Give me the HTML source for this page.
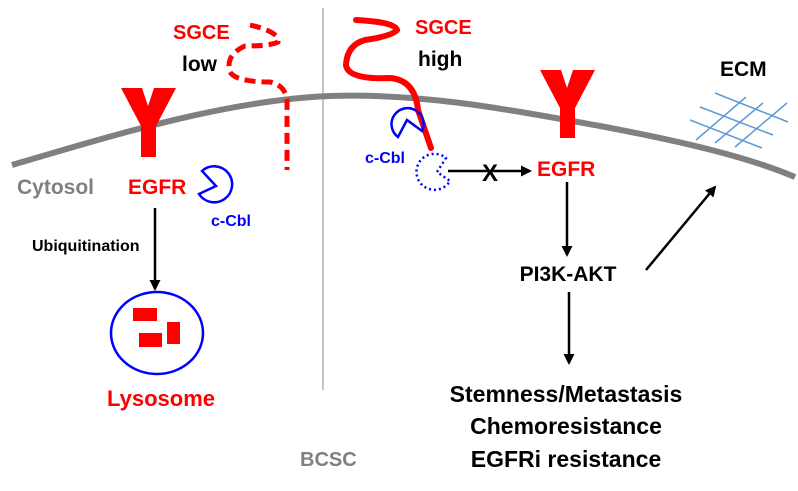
<!DOCTYPE html>
<html><head><meta charset="utf-8"><style>
html,body{margin:0;padding:0;background:#fff}
svg{display:block}
text{font-family:"Liberation Sans",Arial,sans-serif;font-weight:bold}
</style></head><body>
<svg width="798" height="491" viewBox="0 0 798 491" xmlns="http://www.w3.org/2000/svg">
<defs>
<marker id="ah" markerWidth="11" markerHeight="11" refX="9" refY="5.5" orient="auto" markerUnits="userSpaceOnUse">
<path d="M0,0 L11,5.5 L0,11 z" fill="#000"/></marker>
</defs>
<line x1="323" y1="8" x2="323" y2="390" stroke="#888" stroke-width="1"/>
<path d="M12,165 C120,133 230,100 330,96 C420,93 500,108 600,126 C690,143 750,158 795,177" fill="none" stroke="#808080" stroke-width="6"/>
<g stroke="#5b9bd5" stroke-width="1.5">
<line x1="715" y1="93" x2="788" y2="122"/>
<line x1="700" y1="107" x2="773" y2="135"/>
<line x1="690" y1="120" x2="762" y2="148"/>
<line x1="696" y1="140" x2="746" y2="97"/>
<line x1="715" y1="143" x2="763" y2="103"/>
<line x1="735" y1="147" x2="787" y2="103"/>
</g>
<path d="M121,88 L142,88 L148,106 L154,88 L176,88 L156,126 L156,157 L141,157 L141,126 Z" fill="#f00"/>
<path d="M540,70 L561,70 L567,88 L573,70 L595,70 L575,108 L575,138 L560,138 L560,108 Z" fill="#f00"/>
<path d="M250,25 Q280,32 278,42 Q270,46 245,46 Q225,55 230,72 Q236,82 270,82 Q285,85 287,100 L287,170" fill="none" stroke="#f00" stroke-width="5" stroke-dasharray="11,6"/>
<path d="M356,20 Q395,22 397,30 Q392,36 365,40 Q347,45 346,65 Q348,80 390,78 Q415,80 418,110 L431,148" fill="none" stroke="#f00" stroke-width="6" stroke-linecap="round"/>
<path d="M216,186 L202,171 A18,18 0 1 1 199,194 Z" fill="none" stroke="#00f" stroke-width="2.5"/>
<path d="M407,120 L398,137 A16,16 0 1 1 422,131 Z" fill="none" stroke="#00f" stroke-width="2.5"/>
<path d="M437,172 L446,158 A18,18 0 1 0 450,181 Z" fill="none" stroke="#00f" stroke-width="2.5" stroke-dasharray="2,3"/>
<ellipse cx="157" cy="333" rx="46" ry="41" fill="none" stroke="#00f" stroke-width="2.5"/>
<rect x="133" y="308" width="24" height="13" fill="#f00"/>
<rect x="139" y="333" width="23" height="14" fill="#f00"/>
<rect x="167" y="322" width="13" height="22" fill="#f00"/>
<g stroke="#000" stroke-width="2.5" fill="none">
<line x1="155" y1="208" x2="155" y2="289" marker-end="url(#ah)"/>
<line x1="448" y1="171" x2="530" y2="171" marker-end="url(#ah)"/>
<line x1="567" y1="182" x2="567" y2="255" marker-end="url(#ah)"/>
<line x1="569" y1="292" x2="569" y2="363" marker-end="url(#ah)"/>
<line x1="646" y1="270" x2="715" y2="187" marker-end="url(#ah)"/>
</g>
<text x="490" y="181" font-size="24" text-anchor="middle" fill="#000">X</text>
<text x="173" y="39" font-size="20" fill="#f00">SGCE</text>
<text x="182" y="71" font-size="21" fill="#000">low</text>
<text x="415" y="34" font-size="20" fill="#f00">SGCE</text>
<text x="418" y="66" font-size="21" fill="#000">high</text>
<text x="720" y="76" font-size="21" fill="#000">ECM</text>
<text x="17" y="194" font-size="21" fill="#808080">Cytosol</text>
<text x="128" y="194" font-size="21" fill="#f00">EGFR</text>
<text x="211" y="226" font-size="16" fill="#00f">c-Cbl</text>
<text x="365" y="163" font-size="16" fill="#00f">c-Cbl</text>
<text x="537" y="176" font-size="21" fill="#f00">EGFR</text>
<text x="32" y="251" font-size="16" fill="#000">Ubiquitination</text>
<text x="107" y="406" font-size="22" fill="#f00">Lysosome</text>
<text x="300" y="466" font-size="20" fill="#808080">BCSC</text>
<text x="568" y="281" font-size="21" text-anchor="middle" fill="#000">PI3K-AKT</text>
<text x="566" y="402" font-size="23" text-anchor="middle" fill="#000">Stemness/Metastasis</text>
<text x="566" y="434" font-size="23" text-anchor="middle" fill="#000">Chemoresistance</text>
<text x="566" y="467" font-size="23" text-anchor="middle" fill="#000">EGFRi resistance</text>
</svg>
</body></html>
